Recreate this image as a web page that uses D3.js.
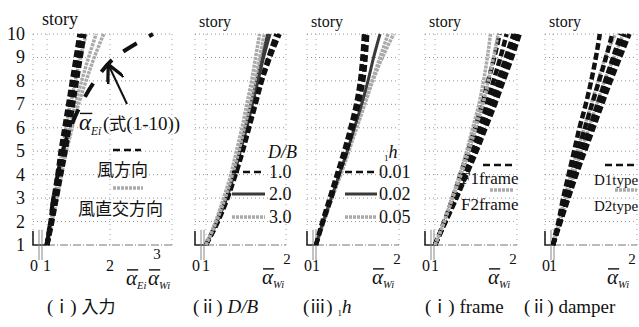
<!DOCTYPE html>
<html>
<head>
<meta charset="utf-8">
<script src="https://cdn.jsdelivr.net/npm/d3@7"></script>
<style>
  body { margin: 0; background: #fff; }
  svg { display: block; }
  .serif { font-family: "Liberation Serif", "DejaVu Serif", serif; fill: #111; }
  .jp { font-family: "Noto Sans CJK JP", sans-serif; fill: #111; }
</style>
</head>
<body>
<svg id="chart" width="639" height="327"></svg>
<script>
// ---- data ----
const stories = [1, 2, 3, 4, 5, 6, 7, 8, 9, 10];
const xTicksInput = [0, 1, 2, 3];
const xTicks = [0, 1, 2];

// (i) 入力 : 風方向 (black dashed) / 風直交方向 (gray) / alpha_Ei 式(1-10)
const inputWind = [
  [1.00, 1.07, 1.13, 1.19, 1.25, 1.31, 1.37, 1.43, 1.49, 1.56],
  [1.00, 1.08, 1.15, 1.22, 1.29, 1.35, 1.41, 1.47, 1.53, 1.59],
  [1.00, 1.06, 1.11, 1.17, 1.22, 1.28, 1.34, 1.40, 1.46, 1.52]
];
const inputCross = [
  [1.00, 1.06, 1.12, 1.18, 1.24, 1.30, 1.37, 1.45, 1.53, 1.62],
  [1.00, 1.07, 1.14, 1.21, 1.28, 1.36, 1.45, 1.55, 1.66, 1.78],
  [1.00, 1.08, 1.16, 1.23, 1.31, 1.40, 1.50, 1.62, 1.75, 1.90]
];
const inputEi = [1.00, 1.05, 1.10, 1.17, 1.25, 1.37, 1.54, 1.76, 2.12, 3.00];

// (ii) D/B
const dbLabels = ["1.0", "2.0", "3.0"];
const db10 = [
  [1.00, 1.15, 1.27, 1.37, 1.46, 1.54, 1.62, 1.70, 1.80, 1.92],
  [1.00, 1.14, 1.26, 1.36, 1.45, 1.53, 1.61, 1.69, 1.78, 1.88]
];
const db20 = [
  [1.00, 1.14, 1.26, 1.35, 1.43, 1.51, 1.58, 1.65, 1.72, 1.80],
  [1.00, 1.13, 1.25, 1.34, 1.42, 1.49, 1.56, 1.63, 1.70, 1.77]
];
const db30 = [
  [1.00, 1.12, 1.22, 1.31, 1.38, 1.45, 1.51, 1.57, 1.62, 1.67],
  [1.00, 1.13, 1.24, 1.33, 1.41, 1.48, 1.55, 1.61, 1.67, 1.73]
];

// (iii) 1h
const hLabels = ["0.01", "0.02", "0.05"];
const h001 = [
  [1.00, 1.08, 1.17, 1.26, 1.35, 1.43, 1.50, 1.55, 1.58, 1.60],
  [1.00, 1.09, 1.19, 1.28, 1.38, 1.46, 1.53, 1.59, 1.62, 1.64]
];
const h002 = [
  [1.00, 1.09, 1.19, 1.29, 1.39, 1.48, 1.57, 1.65, 1.72, 1.80]
];
const h005 = [
  [1.00, 1.10, 1.20, 1.31, 1.41, 1.51, 1.61, 1.71, 1.83, 1.97],
  [1.00, 1.09, 1.19, 1.30, 1.40, 1.50, 1.60, 1.70, 1.80, 1.90]
];

// (i) frame
const frameLabels = ["F1frame", "F2frame"];
const frameF1 = [
  [1.00, 1.14, 1.28, 1.41, 1.54, 1.66, 1.78, 1.89, 2.00, 2.10],
  [1.00, 1.13, 1.27, 1.39, 1.52, 1.63, 1.75, 1.85, 1.96, 2.06],
  [1.00, 1.13, 1.26, 1.38, 1.50, 1.61, 1.72, 1.82, 1.92, 2.02],
  [1.00, 1.13, 1.25, 1.36, 1.47, 1.57, 1.67, 1.76, 1.85, 1.93],
  [1.00, 1.12, 1.23, 1.33, 1.43, 1.52, 1.61, 1.69, 1.77, 1.84]
];
const frameF2 = [
  [1.00, 1.12, 1.22, 1.32, 1.41, 1.49, 1.57, 1.63, 1.68, 1.72],
  [1.00, 1.12, 1.23, 1.34, 1.44, 1.53, 1.62, 1.69, 1.76, 1.82]
];

// (ii) damper
const damperLabels = ["D1type", "D2type"];
const damperD1 = [
  [1.00, 1.10, 1.20, 1.30, 1.41, 1.52, 1.63, 1.74, 1.86, 1.98],
  [1.00, 1.09, 1.19, 1.29, 1.39, 1.49, 1.60, 1.70, 1.81, 1.92],
  [1.00, 1.09, 1.18, 1.27, 1.37, 1.47, 1.57, 1.67, 1.77, 1.87],
  [1.00, 1.08, 1.16, 1.24, 1.32, 1.41, 1.50, 1.59, 1.68, 1.76],
  [1.00, 1.07, 1.13, 1.20, 1.27, 1.34, 1.42, 1.49, 1.55, 1.60]
];
const damperD2 = [
  [1.00, 1.09, 1.18, 1.27, 1.36, 1.46, 1.56, 1.66, 1.78, 1.90],
  [1.00, 1.08, 1.15, 1.23, 1.31, 1.40, 1.49, 1.58, 1.67, 1.80]
];

// ---- styles ----
const styles = {
  dash:  {stroke: "#111", width: 4.5, dash: "7,3"},
  solid: {stroke: "#3a3a3a", width: 3, dash: null},
  gray:  {stroke: "#aaa", width: 3.5, dash: "3,1"}
};

const svg = d3.select("#chart");
const y = d3.scaleLinear().domain([1, 10]).range([245, 34]);

// panel layout: axis position, x scale (broken between 0 and 1), right edge
const panels = [
  {ticks: xTicksInput, range: [33, 47, 110, 153], right: 172, grid: [2],
   groups: [{lines: inputCross, style: "gray"}, {lines: inputWind, style: "dash"}]},
  {ticks: xTicks, range: [195, 206, 286], right: 286, grid: [],
   groups: [{lines: db20, style: "solid"}, {lines: db10, style: "dash"}, {lines: db30, style: "gray"}]},
  {ticks: xTicks, range: [307, 316, 396], right: 399, grid: [],
   groups: [{lines: h005, style: "gray"}, {lines: h002, style: "solid"}, {lines: h001, style: "dash"}]},
  {ticks: xTicks, range: [425, 435, 512], right: 517, grid: [],
   groups: [{lines: frameF1, style: "dash"}, {lines: frameF2, style: "gray"}]},
  {ticks: xTicks, range: [545, 553, 631], right: 637, grid: [],
   groups: [{lines: damperD2, style: "gray"}, {lines: damperD1, style: "dash"}]}
];

function alphaLabel(g, x, yb, sub, size) {
  size = size || 21;
  let t = g.append("text").attr("class", "serif").attr("x", x).attr("y", yb)
    .style("font-size", size + "px");
  t.append("tspan").style("font-style", "italic").text("α");
  t.append("tspan").attr("dy", size * 0.2).style("font-style", "italic")
    .style("font-size", (size * 0.5) + "px").text(sub);
  g.append("line")
    .attr("x1", x + 1).attr("x2", x + size * 0.58)
    .attr("y1", yb - size * 0.72).attr("y2", yb - size * 0.72)
    .attr("stroke", "#111").attr("stroke-width", 1.4);
}

panels.forEach((p, pi) => {
  const x = d3.scaleLinear().domain(p.ticks).range(p.range);
  const g = svg.append("g");
  const ax = p.range[0];

  // grid: dotted story lines
  g.selectAll(".hgrid").data(stories.slice(1)).enter().append("line")
    .attr("x1", ax).attr("x2", p.right)
    .attr("y1", d => y(d)).attr("y2", d => y(d))
    .attr("stroke", "#888").attr("stroke-width", 0.9).attr("stroke-dasharray", "1,3");
  // vertical dotted lines
  [ax, x(1), p.right].concat(p.grid.map(v => x(v))).forEach(vx => {
    g.append("line").attr("x1", vx).attr("x2", vx).attr("y1", y(10)).attr("y2", y(1))
      .attr("stroke", "#999").attr("stroke-width", 0.9).attr("stroke-dasharray", "1,4");
  });
  // base line (story 1)
  g.append("line").attr("x1", x(1)).attr("x2", p.right).attr("y1", y(1)).attr("y2", y(1))
    .attr("stroke", "#777").attr("stroke-width", 1).attr("stroke-dasharray", "8,2,1,2");
  g.append("path")
    .attr("d", `M${ax},${y(1.6)}V${y(1)}H${x(1)}`)
    .attr("fill", "none").attr("stroke", "#222").attr("stroke-width", 1.6);
  // axis break marks
  [ax + 6, ax + 9].forEach(bx => {
    g.append("line").attr("x1", bx).attr("x2", bx).attr("y1", y(1.65)).attr("y2", y(1) + 15)
      .attr("stroke", "#888").attr("stroke-width", 1);
  });

  // data lines
  p.groups.forEach(grp => {
    const st = styles[grp.style];
    const line = d3.line().x(d => x(d)).y((d, i) => y(stories[i])).curve(d3.curveMonotoneY);
    g.selectAll(null).data(grp.lines).enter().append("path")
      .attr("d", line)
      .attr("fill", "none")
      .attr("stroke", st.stroke)
      .attr("stroke-width", pi === 0 && grp.style === "dash" ? 5 : st.width)
      .attr("stroke-dasharray", st.dash);
  });

  // x tick labels
  g.selectAll(".tick").data(p.ticks.slice(0, pi === 0 ? 3 : 2)).enter().append("text")
    .attr("class", "serif").attr("text-anchor", "middle")
    .attr("x", d => x(d) + (d === 0 ? 1 : 0)).attr("y", 271)
    .style("font-size", "16px").text(d => d);
  const last = p.ticks[p.ticks.length - 1];
  g.append("text").attr("class", "serif").attr("text-anchor", "middle")
    .attr("x", x(last) + (pi === 0 ? 4 : 1)).attr("y", pi === 0 ? 259 : 264)
    .style("font-size", "15px").text(last);

  // story title
  g.append("text").attr("class", "serif")
    .attr("x", ax + (pi === 0 ? 9 : 4)).attr("y", pi === 0 ? 25 : 27)
    .style("font-size", pi === 0 ? "18px" : "16px").text("story");

  // x axis symbol
  if (pi === 0) {
    alphaLabel(g, 126, 285, "Ei");
    alphaLabel(g, 148, 285, "Wi");
  } else {
    alphaLabel(g, x(last) - 24, 284, "Wi");
  }
  p.x = x;
});

// story numbers for first panel
svg.selectAll(".story").data(stories).enter().append("text")
  .attr("class", "serif").attr("text-anchor", "end")
  .attr("x", 25).attr("y", d => y(d) + 6)
  .style("font-size", "18px").text(d => d);

// alpha_Ei line (式(1-10))
{
  const x = panels[0].x;
  const line = d3.line().x(d => x(d)).y((d, i) => y(stories[i])).curve(d3.curveMonotoneY);
  svg.append("path").datum(inputEi).attr("d", line)
    .attr("fill", "none").attr("stroke", "#111").attr("stroke-width", 4)
    .attr("stroke-dasharray", "16,14").attr("stroke-dashoffset", -4);
}

// ---- legends ----
function swatch(x1, x2, yy, style) {
  const st = styles[style];
  svg.append("line").attr("x1", x1).attr("x2", x2).attr("y1", yy).attr("y2", yy)
    .attr("stroke", st.stroke)
    .attr("stroke-width", style === "dash" ? 2.6 : st.width)
    .attr("stroke-dasharray", style === "dash" ? "7,4" : st.dash);
}
function label(x, yy, txt, cls, size, italic) {
  return svg.append("text").attr("class", cls).attr("x", x).attr("y", yy)
    .style("font-size", size + "px").style("font-style", italic ? "italic" : null).text(txt);
}

// panel 1 legend + arrow
alphaLabel(svg, 79, 130, "Ei", 23);
{
  const t = svg.append("text").attr("class", "serif").attr("x", 103).attr("y", 130)
    .style("font-size", "19px");
  t.append("tspan").text("(");
  t.append("tspan").attr("class", "jp").style("font-size", "17px").text("式");
  t.append("tspan").text("(1-10))");
}
svg.append("defs").append("marker").attr("id", "ah")
  .attr("viewBox", "0 0 10 10").attr("refX", 9).attr("refY", 5)
  .attr("markerWidth", 9).attr("markerHeight", 9).attr("orient", "auto")
  .append("path").attr("d", "M0,0L10,5L0,10").attr("fill", "none")
  .attr("stroke", "#111").attr("stroke-width", 1.8);
svg.append("line").attr("x1", 127).attr("y1", 104).attr("x2", 109).attr("y2", 66)
  .attr("stroke", "#111").attr("stroke-width", 2).attr("marker-end", "url(#ah)");
swatch(113, 141, 150, "dash");
label(97, 176, "風方向", "jp", 17);
swatch(113, 143, 188, "gray");
label(78, 215, "風直交方向", "jp", 17);

// panel 2 legend
label(268, 158, "D/B", "serif", 18, true);
[db10, db20, db30].forEach((s, i) => {
  const yy = [172, 194, 217][i];
  swatch(232, 265, yy, ["dash", "solid", "gray"][i]);
  label(269, yy + 6, dbLabels[i], "serif", 18);
});

// panel 3 legend
{
  const t = svg.append("text").attr("class", "serif").attr("x", 384).attr("y", 158)
    .style("font-size", "18px");
  t.append("tspan").attr("dy", 3).style("font-size", "9px").text("1");
  t.append("tspan").attr("dy", -3).style("font-style", "italic").text("h");
}
[h001, h002, h005].forEach((s, i) => {
  const yy = [172, 194, 217][i];
  swatch(345, 377, yy, ["dash", "solid", "gray"][i]);
  label(379, yy + 6, hLabels[i], "serif", 18);
});

// panel 4 legend
swatch(483, 513, 165, "dash");
label(461, 184, frameLabels[0], "serif", 17);
swatch(490, 513, 190, "gray");
label(461, 210, frameLabels[1], "serif", 17);

// panel 5 legend
swatch(605, 636, 165, "dash");
label(594, 185, damperLabels[0], "serif", 15);
swatch(615, 637, 190, "gray");
label(594, 211, damperLabels[1], "serif", 15);

// ---- captions ----
const captions = [
  {x: 47, parts: [["(", "serif"], ["ⅰ", "jp"], [") ", "serif"], ["入力", "jp"]]},
  {x: 193, parts: [["(", "serif"], ["ⅱ", "jp"], [") ", "serif"], ["D/B", "serif", true]]},
  {x: 303, parts: [["(", "serif"], ["ⅲ", "jp"], [") ", "serif"], ["1", "serif", false, 9], ["h", "serif", true]]},
  {x: 425, parts: [["(", "serif"], ["ⅰ", "jp"], [") ", "serif"], ["frame", "serif"]]},
  {x: 524, parts: [["(", "serif"], ["ⅱ", "jp"], [") ", "serif"], ["damper", "serif"]]}
];
captions.forEach(c => {
  const t = svg.append("text").attr("class", "serif").attr("x", c.x).attr("y", 313)
    .style("font-size", "19px").attr("xml:space", "preserve");
  c.parts.forEach(pt => {
    const ts = t.append("tspan").attr("class", pt[1]).text(pt[0]);
    if (pt[1] === "jp") ts.style("font-size", "17px");
    if (pt[2]) ts.style("font-style", "italic");
    if (pt[3]) ts.style("font-size", pt[3] + "px").attr("dy", 3);
    else if (pt[0] === "h") ts.attr("dy", -3);
  });
});
</script>
</body>
</html>
